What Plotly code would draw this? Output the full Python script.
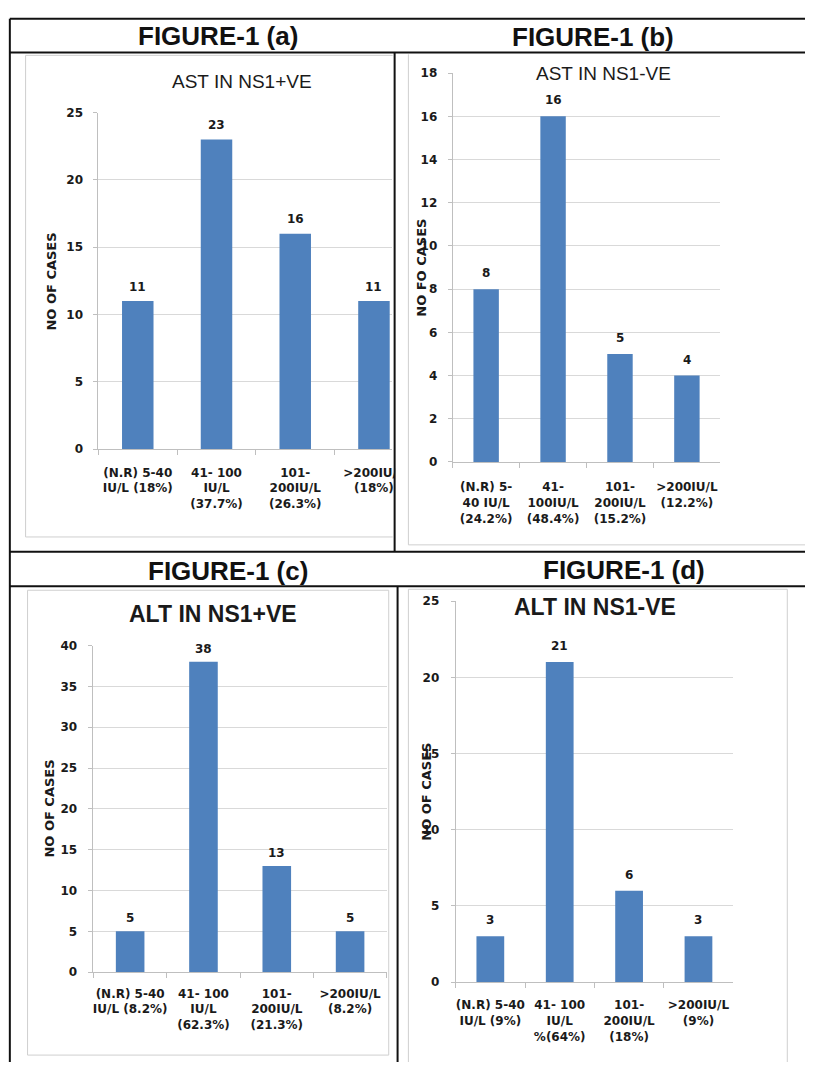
import plotly.graph_objects as go

W, H = 818, 1069

# ---------------- data ----------------
cats_a = ["(N.R) 5-40<br>IU/L (18%)", "41- 100<br>IU/L<br>(37.7%)", "101-<br>200IU/L<br>(26.3%)", ">200IU/L<br>(18%)"]
vals_a = [11, 23, 16, 11]

cats_b = ["(N.R) 5-<br>40 IU/L<br>(24.2%)", "41-<br>100IU/L<br>(48.4%)", "101-<br>200IU/L<br>(15.2%)", ">200IU/L<br>(12.2%)"]
vals_b = [8, 16, 5, 4]

cats_c = ["(N.R) 5-40<br>IU/L (8.2%)", "41- 100<br>IU/L<br>(62.3%)", "101-<br>200IU/L<br>(21.3%)", ">200IU/L<br>(8.2%)"]
vals_c = [5, 38, 13, 5]

cats_d = ["(N.R) 5-40<br>IU/L (9%)", "41- 100<br>IU/L<br>%(64%)", "101-<br>200IU/L<br>(18%)", ">200IU/L<br>(9%)"]
vals_d = [3, 21, 6, 3]

headers = ["FIGURE-1 (a)", "FIGURE-1 (b)", "FIGURE-1 (c)", "FIGURE-1 (d)"]
titles = ["AST IN NS1+VE", "AST IN NS1-VE", "ALT IN NS1+VE", "ALT IN NS1-VE"]
ytitles = ["NO OF CASES", "NO FO CASES", "NO OF CASES", "NO OF CASES"]
ymaxes = [25, 18, 40, 25]
dticks = [5, 2, 5, 5]

# ---------------- layout geometry (pixels) ----------------
panels = [
    dict(cats=cats_a, vals=vals_a, x0=100, x1=398, yt=107, yb=448, xr=[-0.5, 3.225], bw=0.40, shift=14.5,
         head=(222, 29), title=(246, 75), ytit=(52, 278), tbold=False, stand=(12, 8)),
    dict(cats=cats_b, vals=vals_b, x0=460, x1=732, yt=67, yb=461, xr=[-0.5, 3.5], bw=0.38, shift=16,
         head=(603, 30), title=(613, 67), ytit=(428, 264), tbold=False, stand=(14, 8)),
    dict(cats=cats_c, vals=vals_c, x0=95, x1=393, yt=647, yb=978, xr=[-0.5, 3.5], bw=0.39, shift=13,
         head=(232, 571), title=(216, 615), ytit=(50, 812), tbold=True, stand=(10, 9)),
    dict(cats=cats_d, vals=vals_d, x0=463, x1=745, yt=602, yb=988, xr=[-0.5, 3.5], bw=0.40, shift=16,
         head=(634, 570), title=(605, 608), ytit=(433, 795), tbold=True, stand=(12, 9)),
]

BAR = "#4F81BD"
TXT = "#1a1a1a"
GRID = "#d9d9d9"
AXL = "#bfbfbf"
NUMFONT = "DejaVu Sans"
HEADFONT = "Liberation Sans, Arial"

def px(x):
    return x / W

def py(y):
    return 1 - y / H

fig = go.Figure()
annotations = []
layout_axes = {}

for i, p in enumerate(panels):
    n = "" if i == 0 else str(i + 1)
    xa, ya = "x" + n, "y" + n
    fig.add_trace(go.Bar(
        x=p["cats"], y=p["vals"], xaxis=xa, yaxis=ya,
        marker=dict(color=BAR, line=dict(width=0)), width=p["bw"],
        showlegend=False, hoverinfo="x+y",
    ))
    layout_axes["xaxis" + n] = dict(
        domain=[px(p["x0"]), px(p["x1"])], anchor=ya, type="category",
        range=p["xr"], showgrid=False, zeroline=False,
        showline=True, linecolor=AXL, linewidth=1,
        ticks="outside", tickson="boundaries", ticklen=5, tickcolor=AXL,
        tickangle=0,
        tickfont=dict(family=NUMFONT, size=12, color=TXT, weight="bold"),
        ticklabelstandoff=p["stand"][0], fixedrange=True,
    )
    layout_axes["yaxis" + n] = dict(
        domain=[py(p["yb"]), py(p["yt"])], anchor=xa,
        range=[0, ymaxes[i]], dtick=dticks[i], showgrid=True, gridcolor=GRID, gridwidth=1,
        zeroline=False, showline=True, linecolor=AXL, linewidth=1,
        ticks="outside", ticklen=4, tickcolor=AXL,
        tickfont=dict(family=NUMFONT, size=12, color=TXT, weight="bold"),
        ticklabelstandoff=p["stand"][1], fixedrange=True,
    )
    # value labels
    for c, v in zip(p["cats"], p["vals"]):
        annotations.append(dict(
            x=c, y=v, xref=xa, yref=ya, text=str(v), showarrow=False,
            yanchor="middle", yshift=p["shift"],
            font=dict(family=NUMFONT, size=12, color=TXT, weight="bold"),
        ))
    # header
    hx, hy = p["head"]
    annotations.append(dict(
        x=px(hx), y=py(hy), xref="paper", yref="paper", text=headers[i], showarrow=False,
        xanchor="center", yanchor="middle",
        font=dict(family=HEADFONT, size=26, color="#111111", weight="bold"),
    ))
    # chart title
    tx, ty = p["title"]
    annotations.append(dict(
        x=px(tx), y=py(ty), xref="paper", yref="paper", text=titles[i], showarrow=False,
        xanchor="center", yanchor="middle",
        font=dict(family=HEADFONT, size=23 if p["tbold"] else 19, color="#1a1a1a",
                  weight="bold" if p["tbold"] else "normal"),
    ))
    # y-axis title
    ax_, ay_ = p["ytit"]
    annotations.append(dict(
        x=px(ax_), y=py(ay_), xref="paper", yref="paper", text=ytitles[i], showarrow=False,
        xanchor="center", yanchor="middle", textangle=-90,
        font=dict(family=NUMFONT, size=13, color=TXT, weight="bold"),
    ))

shapes = []
gray = dict(color="#cfcfcf", width=1)
# chart frames (light gray), only the visible edges
frame_lines = [
    # (a)
    (26, 49, 26, 537), (26, 49, 399, 49), (26, 537, 399, 537),
    # (b)
    (415, 48, 415, 545), (415, 545, 818, 545),
    # (c)
    (28, 591, 28, 1062), (28, 591, 395, 591), (395, 591, 395, 1062), (28, 1062, 395, 1062),
    # (d)
    (415, 590, 415, 1069), (415, 590, 800, 590), (800, 590, 800, 1069),
]
for (x0, y0, x1, y1) in frame_lines:
    shapes.append(dict(type="line", xref="paper", yref="paper", x0=px(x0), x1=px(x1), y0=py(y0), y1=py(y1),
                       line=gray, layer="below"))
# clip the overflow of panel (a) at the cell border
shapes.append(dict(type="rect", xref="paper", yref="paper", x0=px(401.5), x1=px(413), y0=py(535), y1=py(452),
                   line=dict(width=0), fillcolor="white", layer="above"))
# table borders (black)
blk = dict(color="#111111", width=2)
lines = [
    (10, 12, 818, 12), (10, 46, 818, 46), (10, 552, 818, 552), (10, 587, 818, 587),
    (10, 12, 10, 1069), (401, 46, 401, 552), (404, 587, 404, 1069),
]
for (x0, y0, x1, y1) in lines:
    shapes.append(dict(type="line", xref="paper", yref="paper", x0=px(x0), x1=px(x1), y0=py(y0), y1=py(y1),
                       line=blk, layer="above"))

fig.update_layout(
    width=W, height=H, margin=dict(l=0, r=0, t=0, b=0),
    paper_bgcolor="white", plot_bgcolor="white",
    showlegend=False, annotations=annotations, shapes=shapes,
    bargap=0.6,
    **layout_axes,
)

fig.write_html("out.html")
